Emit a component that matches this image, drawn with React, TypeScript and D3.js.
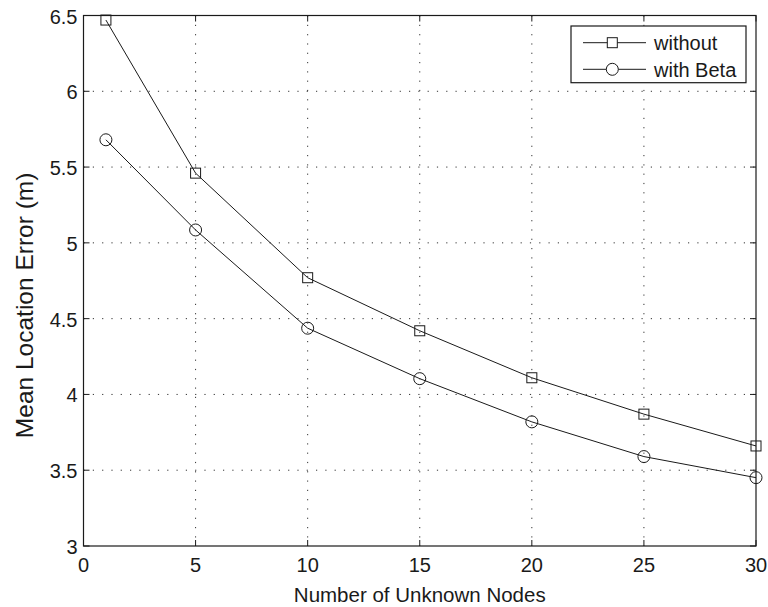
import React from "react";
import * as d3 from "d3";

const nodes = [1, 5, 10, 15, 20, 25, 30];
const withoutValues = [6.47, 5.46, 4.77, 4.42, 4.11, 3.87, 3.66];
const withBetaValues = [5.68, 5.085, 4.437, 4.104, 3.819, 3.59, 3.451];
const xTicks = [0, 5, 10, 15, 20, 25, 30];
const yTicks = [3, 3.5, 4, 4.5, 5, 5.5, 6, 6.5];
const seriesNames = ["without", "with Beta"];
const xLabel = "Number of Unknown Nodes";
const yLabel = "Mean Location Error (m)";

const W = 768;
const H = 607;
const L = 83.5;
const R = 756;
const T = 15.5;
const B = 546;
const FONT = "'Liberation Sans', Arial, Helvetica, sans-serif";
const INK = "#1a1a1a";

export default function App() {
  const x = d3.scaleLinear().domain([0, 30]).range([L, R]);
  const y = d3.scaleLinear().domain([3, 6.5]).range([B, T]);
  const line = d3
    .line<number>()
    .x((_, i) => x(nodes[i]))
    .y((d) => y(d));

  const tickLen = 6;
  const grid = { stroke: "#333", strokeWidth: 1, strokeDasharray: "1.2 8.1" };

  const sq = 10;
  const cr = 6;

  const legX0 = 571;
  const legX1 = 746;
  const legY0 = 26;
  const legY1 = 82.7;
  const legRows = [42.7, 69.3];
  const legLineX0 = 583;
  const legLineX1 = 646;
  const legMarkX = 612.3;

  return (
    <svg
      width={W}
      height={H}
      style={{ position: "absolute", left: 0, top: 0, background: "#fff" }}
      fontFamily={FONT}
    >
      <rect x={0} y={0} width={W} height={H} fill="#fff" />
      {/* grid */}
      {xTicks
        .filter((t) => t !== 0 && t !== 30)
        .map((t) => (
          <line key={"gx" + t} x1={x(t)} x2={x(t)} y1={T} y2={B} {...grid} />
        ))}
      {yTicks
        .filter((t) => t !== 3 && t !== 6.5)
        .map((t) => (
          <line key={"gy" + t} x1={L} x2={R} y1={y(t)} y2={y(t)} {...grid} />
        ))}
      {/* ticks inside on all sides */}
      {xTicks.map((t) => (
        <g key={"tx" + t} stroke={INK} strokeWidth={1}>
          <line x1={x(t)} x2={x(t)} y1={B} y2={B - tickLen} />
          <line x1={x(t)} x2={x(t)} y1={T} y2={T + tickLen} />
        </g>
      ))}
      {yTicks.map((t) => (
        <g key={"ty" + t} stroke={INK} strokeWidth={1}>
          <line x1={L} x2={L + tickLen} y1={y(t)} y2={y(t)} />
          <line x1={R} x2={R - tickLen} y1={y(t)} y2={y(t)} />
        </g>
      ))}
      {/* frame */}
      <rect x={L} y={T} width={R - L} height={B - T} fill="none" stroke={INK} strokeWidth={1.2} />
      {/* tick labels */}
      {xTicks.map((t) => (
        <text key={"lx" + t} x={x(t)} y={572} textAnchor="middle" fontSize={20} fill={INK}>
          {t}
        </text>
      ))}
      {yTicks.map((t) => (
        <text key={"ly" + t} x={77.5} y={y(t) + 8} textAnchor="end" fontSize={20} fill={INK}>
          {t}
        </text>
      ))}
      {/* axis labels */}
      <text x={(L + R) / 2} y={601.5} textAnchor="middle" fontSize={20.5} fill={INK}>
        {xLabel}
      </text>
      <text
        transform={`translate(32.5, 305.4) rotate(-90)`}
        textAnchor="middle"
        fontSize={24.5}
        fill={INK}
      >
        {yLabel}
      </text>
      {/* series */}
      <path d={line(withoutValues) || ""} fill="none" stroke={INK} strokeWidth={1} />
      <path d={line(withBetaValues) || ""} fill="none" stroke={INK} strokeWidth={1} />
      {withoutValues.map((v, i) => (
        <rect
          key={"s" + i}
          x={x(nodes[i]) - sq / 2}
          y={y(v) - sq / 2}
          width={sq}
          height={sq}
          fill="none"
          stroke={INK}
          strokeWidth={1}
        />
      ))}
      {withBetaValues.map((v, i) => (
        <circle key={"c" + i} cx={x(nodes[i])} cy={y(v)} r={cr} fill="none" stroke={INK} strokeWidth={1} />
      ))}
      {/* legend */}
      <rect x={legX0} y={legY0} width={legX1 - legX0} height={legY1 - legY0} fill="#fff" stroke={INK} strokeWidth={1.2} />
      {seriesNames.map((name, i) => (
        <g key={"leg" + i}>
          <line x1={legLineX0} x2={legLineX1} y1={legRows[i]} y2={legRows[i]} stroke={INK} strokeWidth={1} />
          {i === 0 ? (
            <rect x={legMarkX - sq / 2} y={legRows[i] - sq / 2} width={sq} height={sq} fill="#fff" stroke={INK} strokeWidth={1} />
          ) : (
            <circle cx={legMarkX} cy={legRows[i]} r={cr} fill="#fff" stroke={INK} strokeWidth={1} />
          )}
          <text x={654} y={legRows[i] + 7.5} fontSize={20} fill={INK}>
            {name}
          </text>
        </g>
      ))}
    </svg>
  );
}
